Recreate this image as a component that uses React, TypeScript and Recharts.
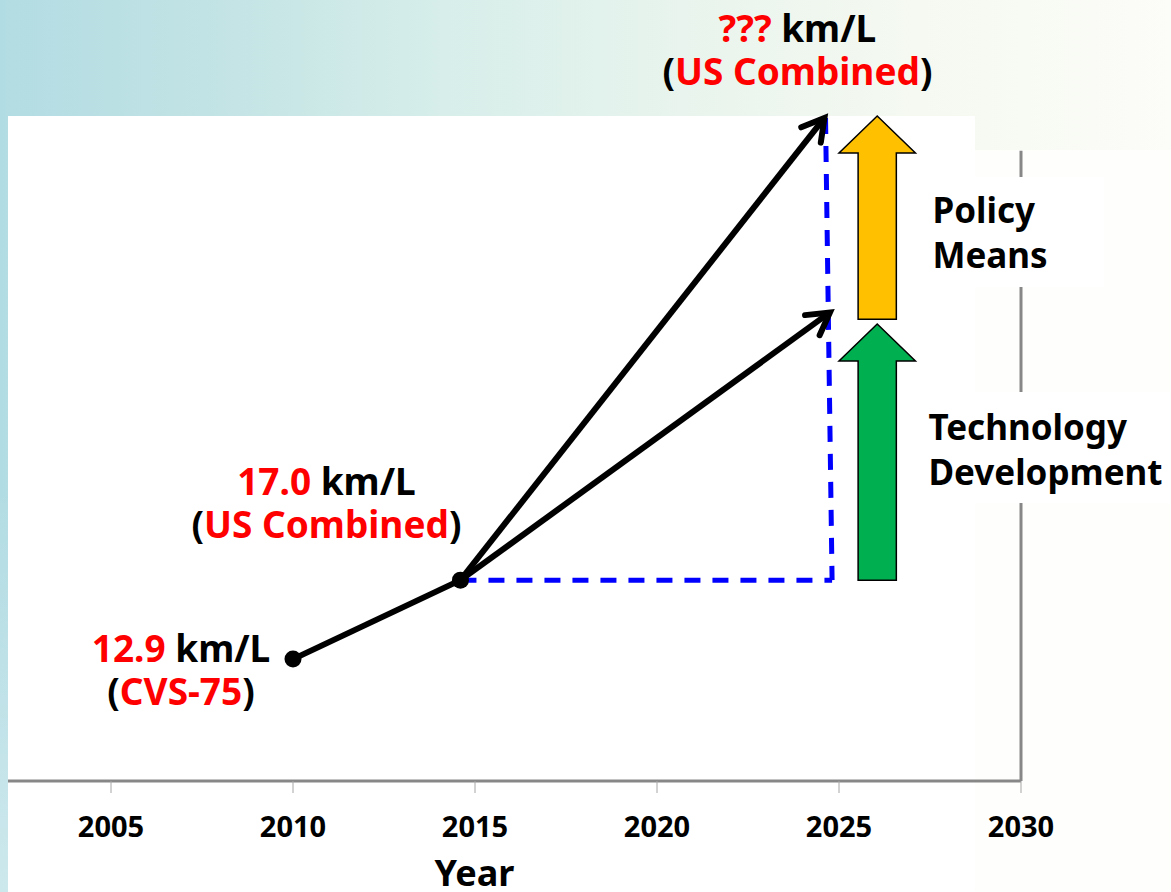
import React from "react";
import {
  ComposedChart, Line, XAxis, YAxis, ReferenceLine, ReferenceDot, ReferenceArea,
} from "recharts";

// measured fuel economy
const measuredYears = [2010, 2014.6];
const measuredKmL = [12.9, 17.0];
const measuredCycles = ["CVS-75", "US Combined"];

// where the two projections end: [technology + policy, technology only]
const targetYears = [2024.6, 2024.75];
const targetKmL = [41.0, 30.9];
const targetValue = "???";
const targetCycle = "US Combined";

const yearTicks = [2005, 2010, 2015, 2020, 2025, 2030];
const yearDomain = [2002.17, 2030];
const kmLDomain = [6.57, 41.1];
const axisTopKmL = 39.3;

// guide lines from the 2015 point
const guideTopYear = 2024.63;
const guideCornerYear = 2024.81;

// contribution arrows
const driverNames = [["Technology", "Development"], ["Policy", "Means"]];
const driverFrom = [17.0, 30.55];
const driverTo = [30.3, 41.1];
const driverYears = [2025.0, 2027.1];
const driverColors = ["#00b050", "#ffc000"];

const FONT = "'Noto Sans', 'Open Sans', sans-serif";
const RED = "#ff0000";

const chartData = measuredYears.map((year, i) => ({ year, kmL: measuredKmL[i] }));

function Note({ cx, cy, value, cycle, dx, top }: any) {
  return (
    <g fontFamily={FONT} fontWeight={700} fontSize={37} textAnchor="middle">
      <text x={cx + dx} y={cy + top}>
        <tspan fill={RED}>{value}</tspan>
        <tspan fill="#000"> km/L</tspan>
      </text>
      <text x={cx + dx} y={cy + top + 43}>
        <tspan fill="#000">(</tspan>
        <tspan fill={RED}>{cycle}</tspan>
        <tspan fill="#000">)</tspan>
      </text>
    </g>
  );
}

function ArrowLine(props: any) {
  const { x1, y1, x2, y2 } = props;
  const a = Math.atan2(y2 - y1, x2 - x1);
  const arm = 25;
  const spread = 0.52;
  const p1 = `${x2 - arm * Math.cos(a - spread)},${y2 - arm * Math.sin(a - spread)}`;
  const p2 = `${x2 - arm * Math.cos(a + spread)},${y2 - arm * Math.sin(a + spread)}`;
  return (
    <g>
      <line x1={x1} y1={y1} x2={x2} y2={y2} stroke="#000" strokeWidth={6} />
      <polyline points={`${p1} ${x2},${y2} ${p2}`} fill="none" stroke="#000"
        strokeWidth={6} strokeLinecap="round" strokeLinejoin="miter" />
    </g>
  );
}

function BlockArrow({ x, y, width, height, fill, lines, textDx, boxTop, boxH, boxW, firstLine }: any) {
  const head = 37;
  const sl = x + width * 0.25;
  const sr = x + width * 0.75;
  const hb = y + head;
  const pts = `${sl},${y + height} ${sl},${hb} ${x},${hb} ${x + width / 2},${y} ${x + width},${hb} ${sr},${hb} ${sr},${y + height}`;
  const tx = x + width + textDx;
  return (
    <g>
      <polygon points={pts} fill={fill} stroke="#000" strokeWidth={1.5} />
      <rect x={tx - 8} y={y + boxTop} width={boxW} height={boxH} fill="#fff" />
      <g fontFamily={FONT} fontWeight={700} fontSize={35} fill="#000">
        {lines.map((s: string, i: number) => (
          <text key={s} x={tx} y={y + firstLine + i * 45}>{s}</text>
        ))}
      </g>
    </g>
  );
}

export default function App() {
  return (
    <div style={{ position: "absolute", left: 0, top: 0, width: 1171, height: 892, overflow: "hidden",
      background: "linear-gradient(to bottom, rgba(255,255,255,0) 55%, rgba(255,255,255,0.35) 100%), linear-gradient(to right, #b2dce3 0%, #c4e4e5 20%, #d7eeea 38%, #e8f4ed 58%, #f5f9f1 78%, #fcfcf8 100%)" }}>
      <div style={{ position: "absolute", left: 8, top: 116, width: 967, height: 776, background: "#fff" }} />
      <div style={{ position: "absolute", left: 975, top: 150, width: 196, height: 742, background: "#fefefc" }} />
      <div style={{ position: "absolute", left: 0, top: 0 }}>
        <ComposedChart width={1171} height={892} data={chartData}
          margin={{ top: 116, right: 150, left: 8, bottom: 0 }}
          style={{ fontFamily: FONT }}>
          <XAxis type="number" dataKey="year" domain={yearDomain} allowDataOverflow
            ticks={yearTicks} height={111} stroke="#878787"
            axisLine={{ stroke: "#878787", strokeWidth: 3 }}
            tickLine={{ stroke: "#a6a6a6", strokeWidth: 1 }}
            tickSize={12} tickMargin={23}
            tick={{ fill: "#000", fontSize: 29, fontWeight: 700, fontFamily: FONT }}
            label={{ value: "Year", position: "insideBottom", offset: 6, dx: -40,
              fill: "#000", fontSize: 36, fontWeight: 700, fontFamily: FONT }} />
          <YAxis type="number" hide domain={kmLDomain} allowDataOverflow />

          {/* right-hand frame line */}
          <ReferenceLine segment={[{ x: yearDomain[1], y: kmLDomain[0] }, { x: yearDomain[1], y: axisTopKmL }]}
            stroke="#878787" strokeWidth={3} ifOverflow="visible" />

          {/* dashed guides */}
          <ReferenceLine segment={[{ x: measuredYears[1], y: measuredKmL[1] }, { x: guideCornerYear, y: measuredKmL[1] }]}
            stroke="#0000ff" strokeWidth={5} strokeDasharray="16 12" ifOverflow="visible" />
          <ReferenceLine segment={[{ x: guideTopYear, y: targetKmL[0] }, { x: guideCornerYear, y: measuredKmL[1] }]}
            stroke="#0000ff" strokeWidth={5} strokeDasharray="16 12" ifOverflow="visible" />

          {/* projections */}
          {targetYears.map((ty, i) => (
            <ReferenceLine key={ty}
              segment={[{ x: measuredYears[1], y: measuredKmL[1] }, { x: ty, y: targetKmL[i] }]}
              shape={ArrowLine} ifOverflow="visible" />
          ))}

          <Line dataKey="kmL" stroke="#000" strokeWidth={6} isAnimationActive={false}
            dot={{ r: 8.5, fill: "#000", stroke: "#000", strokeWidth: 0 }} activeDot={false} />

          {/* value notes */}
          <ReferenceDot x={measuredYears[0]} y={measuredKmL[0]} r={1} ifOverflow="visible"
            shape={(p: any) => <Note cx={p.cx} cy={p.cy} value={measuredKmL[0].toFixed(1)} cycle={measuredCycles[0]} dx={-112} top={3} />} />
          <ReferenceDot x={measuredYears[1]} y={measuredKmL[1]} r={1} ifOverflow="visible"
            shape={(p: any) => <Note cx={p.cx} cy={p.cy} value={measuredKmL[1].toFixed(1)} cycle={measuredCycles[1]} dx={-134} top={-85} />} />
          <ReferenceDot x={targetYears[0]} y={targetKmL[0]} r={1} ifOverflow="visible"
            shape={(p: any) => <Note cx={p.cx} cy={p.cy} value={targetValue} cycle={targetCycle} dx={-27} top={-76} />} />

          {/* technology / policy contributions */}
          <ReferenceArea x1={driverYears[0]} x2={driverYears[1]} y1={driverFrom[0]} y2={driverTo[0]}
            ifOverflow="visible" zIndex={1500}
            shape={(p: any) => <BlockArrow {...p} fill={driverColors[0]} lines={driverNames[0]}
              textDx={13} boxTop={68} boxH={111} boxW={250} firstLine={116} />} />
          <ReferenceArea x1={driverYears[0]} x2={driverYears[1]} y1={driverFrom[1]} y2={driverTo[1]}
            ifOverflow="visible" zIndex={1500}
            shape={(p: any) => <BlockArrow {...p} fill={driverColors[1]} lines={driverNames[1]}
              textDx={17} boxTop={61} boxH={110} boxW={180} firstLine={107} />} />
        </ComposedChart>
      </div>
    </div>
  );
}
